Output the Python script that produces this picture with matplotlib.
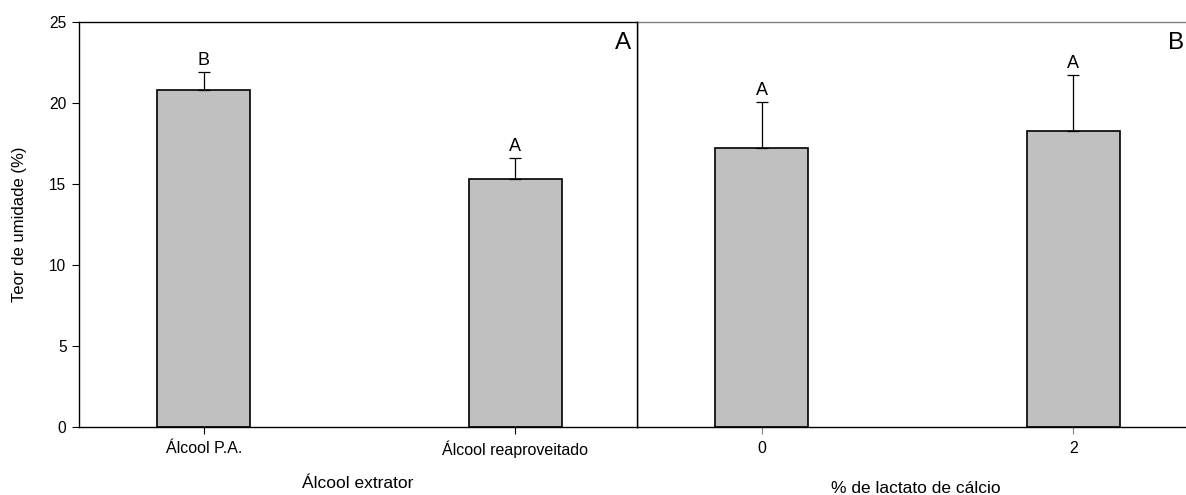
import matplotlib
matplotlib.use("Agg")
import matplotlib.pyplot as plt

plt.rcParams['font.family'] = ['Liberation Sans', 'DejaVu Sans']

# Data
cats_a = ["Álcool P.A.", "Álcool reaproveitado"]
vals_a = [20.8, 15.3]
err_a = [1.1, 1.3]
letters_a = ["B", "A"]

cats_b = ["0", "2"]
vals_b = [17.2, 18.25]
err_b = [2.85, 3.5]
letters_b = ["A", "A"]

ylabel = "Teor de umidade (%)"
xlabel_a = "Álcool extrator"
xlabel_b = "% de lactato de cálcio"
yticks = [0, 5, 10, 15, 20, 25]

W, H = 1186, 495
fig = plt.figure(figsize=(W / 100, H / 100), dpi=100)

ax_l = 79 / W
ax_w = 558 / W
ax_b = 1 - 427 / H
ax_h = (427 - 22) / H

axA = fig.add_axes([ax_l, ax_b, ax_w, ax_h])
axB = fig.add_axes([637 / W, ax_b, ax_w, ax_h])

bar_w = 0.30
gray = "#c0c0c0"

def draw(ax, cats, vals, errs, letters, xlabel, corner, corner_x, show_y, xlab_y):
    x = list(range(len(cats)))
    ax.bar(x, vals, width=bar_w, color=gray, edgecolor="black", linewidth=1.2, zorder=2)
    ax.errorbar(x, vals, yerr=[[0] * len(errs), errs], fmt="none", ecolor="black",
                elinewidth=0.9, capsize=4, capthick=0.9, zorder=3)
    for xi, v, e, t in zip(x, vals, errs, letters):
        ax.text(xi, v + e + 0.42, t, ha="center", va="baseline", fontsize=13)
    ax.set_xlim(-0.40, 1.39)
    ax.set_ylim(0, 25)
    ax.set_xticks(x)
    ax.set_xticklabels(cats, fontsize=11.5)
    ax.tick_params(axis="x", direction="out", length=5, width=0.8, pad=5)
    ax.set_xlabel(xlabel, fontsize=12.5)
    ax.xaxis.label.set_va("baseline")
    ax.xaxis.set_label_coords(0.5, xlab_y)
    ax.text(corner_x, 0.975, corner, transform=ax.transAxes, ha="right", va="top", fontsize=17.5)
    if show_y:
        ax.set_yticks(yticks)
        ax.tick_params(axis="y", direction="out", length=5, width=0.8, labelsize=11.2, pad=4)
        ax.set_ylabel(ylabel, fontsize=12)
        ax.yaxis.label.set_va("center")
        ax.yaxis.set_label_coords((20 - 79) / 558, 0.5)
    else:
        ax.set_yticks([])
    for s in ax.spines.values():
        s.set_linewidth(1.0)

draw(axA, cats_a, vals_a, err_a, letters_a, xlabel_a, "A", 0.989, True, (427 - 488) / 405)
draw(axB, cats_b, vals_b, err_b, letters_b, xlabel_b, "B", (1184 - 637) / 558, False, (427 - 493) / 405)
axB.spines["top"].set_color("#808080")
axB.tick_params(axis="x", color="#808080")
axB.set_zorder(0)
axA.set_zorder(1)

fig.savefig("out.png", dpi=100)
